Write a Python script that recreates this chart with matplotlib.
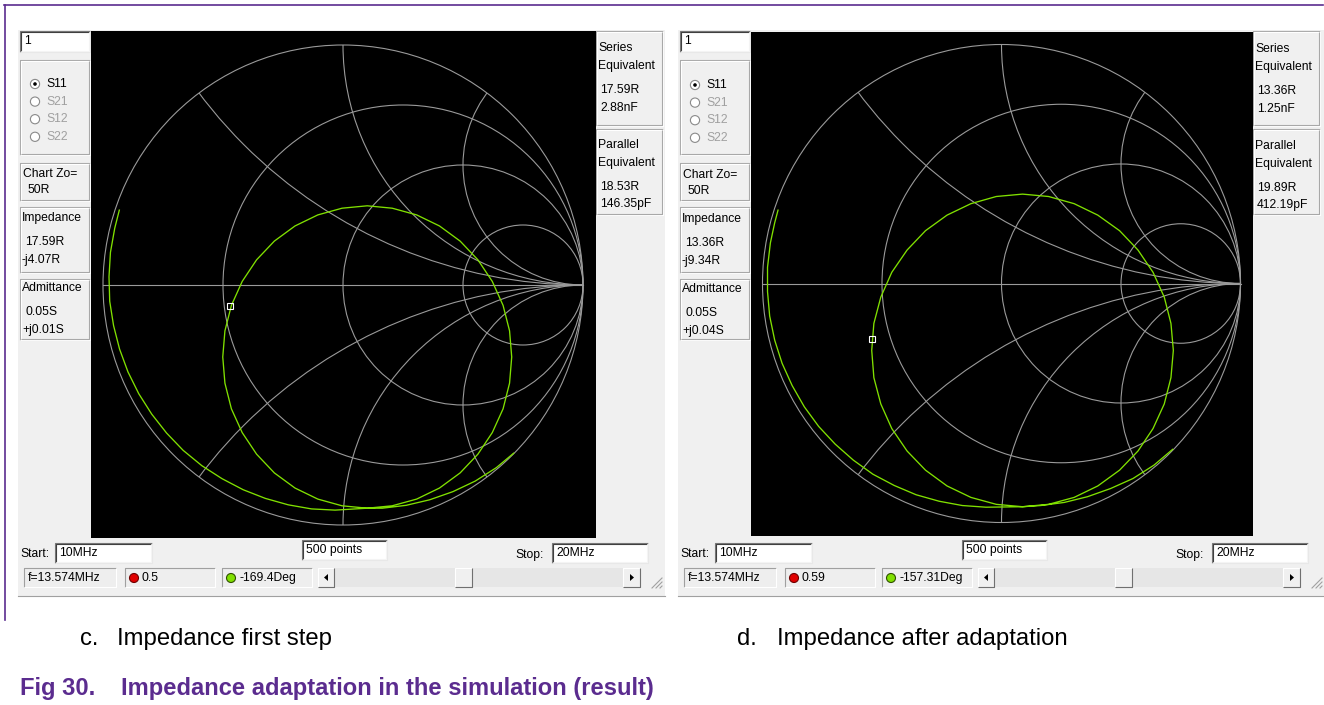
import numpy as np
import matplotlib
matplotlib.use("Agg")
import matplotlib.pyplot as plt
from matplotlib.patches import Rectangle, Circle, Polygon

W, H = 1324, 705

# ---------------- data ----------------
r_circles = [1/3, 1.0, 3.0]          # constant-resistance circles
x_arcs = [0.5, 1.0, 2.0]             # constant-reactance arcs (+/-)

left_re = [0.711, 0.639, 0.551, 0.458, 0.361, 0.263, 0.164,
           0.101, -0.004, -0.105, -0.200, -0.286, -0.360, -0.420, -0.465, -0.492, -0.501,
           -0.492, -0.465, -0.420, -0.360, -0.286, -0.200, -0.105, -0.004, 0.101, 0.205,
           0.307, 0.402, 0.488, 0.562, 0.622, 0.667, 0.694, 0.703, 0.694, 0.667,
           0.622, 0.562, 0.488, 0.402, 0.307, 0.205, 0.101,
           -0.033, -0.131, -0.228, -0.324, -0.416, -0.504, -0.588, -0.666, -0.735, -0.797,
           -0.851, -0.896, -0.931, -0.956, -0.972, -0.975, -0.969, -0.951, -0.932]
left_im = [-0.701, -0.761, -0.817, -0.861, -0.895, -0.918, -0.930,
           -0.930, -0.920, -0.892, -0.846, -0.783, -0.705, -0.615, -0.516, -0.409, -0.300,
           -0.191, -0.085, 0.015, 0.105, 0.183, 0.246, 0.292, 0.320, 0.330, 0.320,
           0.292, 0.246, 0.183, 0.105, 0.015, -0.085, -0.191, -0.300, -0.409, -0.516,
           -0.615, -0.705, -0.783, -0.846, -0.892, -0.920, -0.930,
           -0.938, -0.933, -0.916, -0.889, -0.853, -0.807, -0.753, -0.689, -0.617, -0.538,
           -0.453, -0.362, -0.267, -0.169, -0.068, 0.034, 0.136, 0.237, 0.312]
left_marker = (-0.471, -0.088)

right_re = [0.716, 0.638, 0.550, 0.456, 0.360, 0.263, 0.164,
            0.088, -0.022, -0.128, -0.228, -0.318, -0.395, -0.459, -0.505, -0.534, -0.543,
            -0.534, -0.505, -0.459, -0.395, -0.318, -0.228, -0.128, -0.022, 0.088, 0.197,
            0.304, 0.403, 0.494, 0.571, 0.634, 0.681, 0.709, 0.719, 0.709, 0.681,
            0.634, 0.571, 0.494, 0.403, 0.304, 0.197, 0.088,
            -0.065, -0.164, -0.261, -0.357, -0.449, -0.538, -0.620, -0.696, -0.765, -0.825,
            -0.876, -0.918, -0.949, -0.970, -0.979, -0.979, -0.967, -0.949, -0.935]
right_im = [-0.694, -0.760, -0.816, -0.858, -0.892, -0.916, -0.929,
            -0.934, -0.924, -0.895, -0.847, -0.781, -0.701, -0.607, -0.504, -0.394, -0.280,
            -0.167, -0.057, 0.047, 0.140, 0.221, 0.286, 0.334, 0.364, 0.374, 0.364,
            0.334, 0.286, 0.221, 0.140, 0.047, -0.057, -0.167, -0.280, -0.394, -0.504,
            -0.607, -0.701, -0.781, -0.847, -0.895, -0.924, -0.934,
            -0.936, -0.929, -0.911, -0.884, -0.845, -0.798, -0.739, -0.672, -0.598, -0.516,
            -0.427, -0.334, -0.237, -0.136, -0.034, 0.068, 0.170, 0.254, 0.307]
right_marker = (-0.541, -0.234)

params = ["S11", "S21", "S12", "S22"]
left_texts = dict(zo="50R", imp=("17.59R", "-j4.07R"), adm=("0.05S", "+j0.01S"),
                  ser=("17.59R", "2.88nF"), par=("18.53R", "146.35pF"),
                  start="10MHz", stop="20MHz", pts="500 points",
                  freq="f=13.574MHz", mag="0.5", ang="-169.4Deg")
right_texts = dict(zo="50R", imp=("13.36R", "-j9.34R"), adm=("0.05S", "+j0.04S"),
                   ser=("13.36R", "1.25nF"), par=("19.89R", "412.19pF"),
                   start="10MHz", stop="20MHz", pts="500 points",
                   freq="f=13.574MHz", mag="0.59", ang="-157.31Deg")
captions = [("c.", "Impedance first step"), ("d.", "Impedance after adaptation")]
fig_label = ("Fig 30.", "Impedance adaptation in the simulation (result)")

# ---------------- style ----------------
UIFONT = "Liberation Sans"
GRID = "#9a9a9a"
TRACE = "#80e000"
PANEL = "#f0f0f0"
PURPLE = "#5b2c8f"

fig = plt.figure(figsize=(W / 100, H / 100), dpi=100)
ui = fig.add_axes([0, 0, 1, 1])
ui.set_xlim(0, W)
ui.set_ylim(H, 0)
ui.axis("off")


def rect(x0, y0, x1, y1, fc, ec="none", lw=0.8, z=1):
    ui.add_patch(Rectangle((x0, y0), x1 - x0, y1 - y0, fc=fc, ec=ec, lw=lw, zorder=z))


def edge(x0, y0, x1, y1, tl, br, z=2):
    ui.plot([x0, x0, x1], [y1, y0, y0], color=tl, lw=0.8, zorder=z, solid_capstyle="butt")
    ui.plot([x0, x1, x1], [y1, y1, y0], color=br, lw=0.8, zorder=z, solid_capstyle="butt")


def txt(x, y, s, color="black", size=8.7, ha="left"):
    ui.text(x, y, s, fontsize=size, family=UIFONT, color=color, ha=ha, va="center", zorder=5)


def textbox(x0, y0, x1, y1, s):
    rect(x0, y0, x1, y1, "white", z=2)
    edge(x0, y0, x1, y1, "#7a7a7a", "#e8e8e8", z=3)
    edge(x0 + 1, y0 + 1, x1 - 1, y1 - 1, "#404040", "#f4f4f4", z=3)
    txt(x0 + 4, (y0 + y1) / 2, s)


def group(x0, y0, x1, y1):
    edge(x0, y0, x1, y1, "#a8a8a8", "#ffffff", z=2)
    edge(x0 + 1, y0 + 1, x1 - 1, y1 - 1, "#ffffff", "#a8a8a8", z=2)


def panel(dx, dy, black, T):
    rect(18 + dx, 30, 665 + dx, 597, PANEL, z=0)
    ui.plot([18 + dx, 665 + dx], [596, 596], color="#a0a0a0", lw=0.8, zorder=1)
    # left column
    textbox(20 + dx, 31, 90 + dx, 52, "1")
    group(20 + dx, 60, 90 + dx, 155)
    for i, p in enumerate(params):
        cy = 84 + dy + i * 17.6
        ui.add_patch(Circle((35 + dx, cy), 4.6, fc="white", ec="#8a8a8a", lw=0.8, zorder=4))
        if i == 0:
            ui.add_patch(Circle((35 + dx, cy), 1.8, fc="black", ec="none", zorder=5))
        txt(46 + dx, cy, p, color="black" if i == 0 else "#a0a0a0")
    group(20 + dx, 163, 90 + dx, 201)
    txt(23 + dx, 174 + dy, "Chart Zo=")
    txt(27 + dx, 190 + dy, T["zo"])
    group(20 + dx, 207, 90 + dx, 273)
    txt(22 + dx, 218 + dy, "Impedance")
    txt(25 + dx, 242 + dy, T["imp"][0])
    txt(22 + dx, 260 + dy, T["imp"][1])
    group(20 + dx, 279, 90 + dx, 340)
    txt(22 + dx, 288 + dy, "Admittance")
    txt(25 + dx, 312 + dy, T["adm"][0])
    txt(22 + dx, 330 + dy, T["adm"][1])
    # right column
    rx = black[1]
    group(rx, 31, rx + 67, 126)
    txt(rx + 2, 48 + dy, "Series")
    txt(rx + 2, 66 + dy, "Equivalent")
    txt(rx + 4, 90 + dy, T["ser"][0])
    txt(rx + 4, 108 + dy, T["ser"][1])
    group(rx, 129, rx + 67, 215)
    txt(rx + 2, 145 + dy, "Parallel")
    txt(rx + 2, 163 + dy, "Equivalent")
    txt(rx + 4, 187 + dy, T["par"][0])
    txt(rx + 4, 204 + dy, T["par"][1])
    # bottom controls
    txt(20 + dx, 554, "Start:")
    textbox(55 + dx, 543, 152 + dx, 563, T["start"])
    textbox(302 + dx, 540, 387 + dx, 560, T["pts"])
    txt(515 + dx, 555, "Stop:")
    textbox(552 + dx, 543, 648 + dx, 563, T["stop"])
    # status row
    for (a, b) in [(24, 116), (125, 215), (222, 312)]:
        rect(a + dx, 568, b + dx, 587, "#eeeeee", z=2)
        edge(a + dx, 568, b + dx, 587, "#a0a0a0", "#ffffff", z=3)
    txt(28 + dx, 578, T["freq"])
    ui.add_patch(Circle((134 + dx, 578), 4.5, fc="#e00000", ec="#700000", lw=0.8, zorder=4))
    txt(142 + dx, 578, T["mag"])
    ui.add_patch(Circle((231 + dx, 578), 4.5, fc="#80e000", ec="#305000", lw=0.8, zorder=4))
    txt(239 + dx, 578, T["ang"])
    # scrollbar
    rect(318 + dx, 568, 640 + dx, 587, "#e6e6e6", z=2)
    for (a, b) in [(318, 334), (455, 472), (623, 640)]:
        rect(a + dx, 568, b + dx, 587, PANEL, z=3)
        edge(a + dx, 568, b + dx, 587, "#ffffff", "#707070", z=4)
    ui.add_patch(Polygon([[324 + dx, 577.5], [328 + dx, 574], [328 + dx, 581]], closed=True,
                         fc="black", ec="none", zorder=5))
    ui.add_patch(Polygon([[634 + dx, 577.5], [630 + dx, 574], [630 + dx, 581]], closed=True,
                         fc="black", ec="none", zorder=5))
    for k in range(3):
        ui.plot([652 + dx + 4 * k, 662 + dx], [588, 578 + 4 * k], color="#a0a0a0", lw=0.8, zorder=3)


def smith(box, center, R, re, im, marker):
    x0, x1, y0, y1 = box
    cx, cy = center
    ax = fig.add_axes([x0 / W, 1 - y1 / H, (x1 - x0) / W, (y1 - y0) / H])
    ax.set_facecolor("black")
    ax.set_xlim((x0 - cx) / R, (x1 - cx) / R)
    ax.set_ylim((cy - y1) / R, (cy - y0) / R)
    ax.set_xticks([])
    ax.set_yticks([])
    for s in ax.spines.values():
        s.set_visible(False)
    lw = 0.8
    ax.add_patch(Circle((0, 0), 1, fill=False, ec=GRID, lw=lw))
    for r in r_circles:
        ax.add_patch(Circle((r / (1 + r), 0), 1 / (1 + r), fill=False, ec=GRID, lw=lw))
    for x in x_arcs:
        for sgn in (1, -1):
            c = Circle((1, sgn / x), 1 / x, fill=False, ec=GRID, lw=lw)
            ax.add_patch(c)
            c.set_clip_path(Circle((0, 0), 1, transform=ax.transData))
    ax.plot([-1, 1], [0, 0], color=GRID, lw=lw)
    ax.plot(re, im, color=TRACE, lw=0.95, zorder=5, solid_joinstyle="round")
    ax.plot([marker[0]], [marker[1]], marker="s", ms=4, mfc="none", mec="white",
            mew=0.8, zorder=6)
    return ax


panel(0, 0, (91, 596), left_texts)
panel(660, 1, (751, 1253), right_texts)
smith((91, 596, 31, 538), (343, 285), 240, left_re, left_im, left_marker)
smith((751, 1253, 32, 536), (1001.5, 283.5), 239, right_re, right_im, right_marker)

# document frame
ui.plot([4, 1323], [5, 5], color=PURPLE, lw=1.2, zorder=1)
ui.plot([5, 5], [5, 620], color=PURPLE, lw=1.2, zorder=1)

# captions
for (lab, cap), xl, xc in zip(captions, (80, 737), (117, 777)):
    ui.text(xl, 645, lab, fontsize=17.2, family="Liberation Sans", va="baseline", ha="left")
    ui.text(xc, 645, cap, fontsize=17.2, family="Liberation Sans", va="baseline", ha="left")
ui.text(20, 695, fig_label[0], fontsize=17.1, family="Liberation Sans", weight="bold",
        color=PURPLE, va="baseline", ha="left")
ui.text(121, 695, fig_label[1], fontsize=17.1, family="Liberation Sans", weight="bold",
        color=PURPLE, va="baseline", ha="left")

fig.savefig("out.png", dpi=100)
